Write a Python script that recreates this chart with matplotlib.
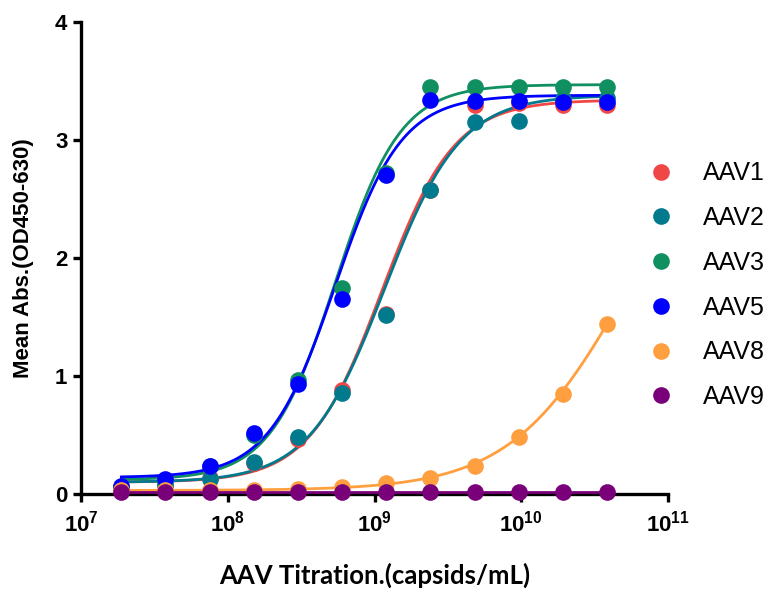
import numpy as np
import matplotlib
matplotlib.use("Agg")
import matplotlib.pyplot as plt

plt.rcParams["font.family"] = ["Liberation Sans", "DejaVu Sans"]
plt.rcParams["mathtext.fontset"] = "custom"
plt.rcParams["mathtext.rm"] = "Liberation Sans:bold"
plt.rcParams["mathtext.it"] = "Liberation Sans:bold"
plt.rcParams["mathtext.bf"] = "Liberation Sans:bold"

# two-fold dilution series (capsids/mL)
titration = [1.875e7, 3.75e7, 7.5e7, 1.5e8, 3.0e8, 6.0e8, 1.2e9, 2.4e9, 4.8e9, 9.6e9, 1.92e10, 3.84e10]

serotypes = ["AAV1", "AAV2", "AAV3", "AAV5", "AAV8", "AAV9"]
colors = ["#F04646", "#007A8C", "#109060", "#0000FF", "#FF9F3F", "#7A007A"]

aav1 = [0.06, 0.08, 0.14, 0.26, 0.47, 0.88, 1.53, 2.58, 3.30, 3.31, 3.30, 3.30]
aav2 = [0.05, 0.08, 0.13, 0.27, 0.48, 0.86, 1.52, 2.58, 3.15, 3.16, 3.35, 3.36]
aav3 = [0.05, 0.10, 0.24, 0.50, 0.97, 1.75, 2.72, 3.45, 3.45, 3.45, 3.45, 3.45]
aav5 = [0.07, 0.13, 0.24, 0.52, 0.93, 1.65, 2.70, 3.34, 3.33, 3.33, 3.32, 3.32]
aav8 = [0.03, 0.03, 0.03, 0.03, 0.04, 0.06, 0.09, 0.14, 0.24, 0.48, 0.85, 1.44]
aav9 = [0.02, 0.02, 0.02, 0.02, 0.02, 0.02, 0.02, 0.02, 0.02, 0.02, 0.02, 0.02]
values = [aav1, aav2, aav3, aav5, aav8, aav9]

# 4PL fit parameters (bottom, top, EC50, hill)
fit_bottom = [0.10, 0.10, 0.12, 0.14, 0.03, 0.02]
fit_top = [3.34, 3.38, 3.47, 3.38, 3.40, 0.02]
fit_ec50 = [1.12e9, 1.17e9, 5.4e8, 5.37e8, 5.19e10, 1e9]
fit_hill = [1.75, 1.68, 1.95, 1.92, 1.10, 1.0]


def four_pl(x, b, t, c, h):
    return b + (t - b) / (1.0 + (c / x) ** h)


fig = plt.figure(figsize=(7.78, 5.97), dpi=100)
ax = fig.add_axes([0.1045, 0.1725, 0.754, 0.7905])

xs = np.logspace(np.log10(titration[0]), np.log10(titration[-1]), 400)
for name, col, ys, b, t, c, h in zip(serotypes, colors, values, fit_bottom, fit_top, fit_ec50, fit_hill):
    ax.plot(xs, four_pl(xs, b, t, c, h), color=col, lw=2.0, zorder=3)
    ax.plot(titration, ys, "o", color=col, ms=12, mec="none", zorder=4, label=name, clip_on=False)

ax.set_xscale("log")
ax.set_xlim(1e7, 1e11)
ax.set_ylim(0, 4)
ax.set_xticks([1e7, 1e8, 1e9, 1e10, 1e11])
ax.set_xticklabels([r"$10^{%d}$" % e for e in range(7, 12)])
ax.minorticks_off()
ax.set_yticks([0, 1, 2, 3, 4])
ax.set_yticklabels(["0", "1", "2", "3", "4"])

for s in ["top", "right"]:
    ax.spines[s].set_visible(False)
for s in ["left", "bottom"]:
    ax.spines[s].set_linewidth(2.4)
ax.tick_params(axis="both", width=2.4, length=6, labelsize=16, pad=4)
ax.tick_params(axis="x", pad=6)
for lab in ax.get_yticklabels():
    lab.set_fontweight("bold")

ax.set_xlabel("AAV Titration.(capsids/mL)", fontsize=18.5, fontweight="bold",
              family=["Lato", "DejaVu Sans"], labelpad=19)
ax.set_ylabel("Mean Abs.(OD450-630)", fontsize=16, fontweight="bold", labelpad=15)

ax.legend(loc="upper left", bbox_to_anchor=(0.8335, 0.7295), bbox_transform=fig.transFigure,
          frameon=False, fontsize=18, borderpad=0, borderaxespad=0,
          handlelength=1.0, handletextpad=1.18, labelspacing=0.83, markerscale=1.0)

fig.savefig("out.png", dpi=100)
